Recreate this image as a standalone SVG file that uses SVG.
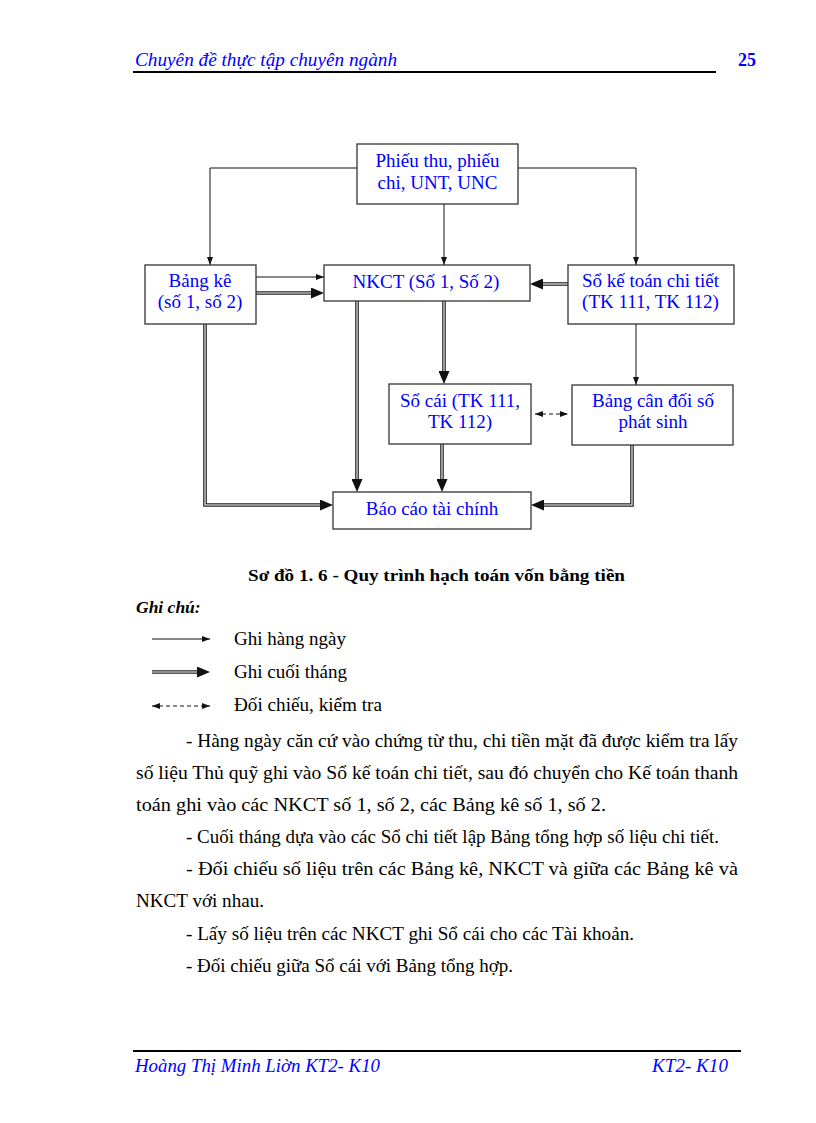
<svg xmlns="http://www.w3.org/2000/svg" width="816" height="1123" viewBox="0 0 816 1123">
<style>
.bx{fill:#fff;stroke:#333;stroke-width:1.3}
.nt{font-family:"Liberation Serif","Times New Roman",serif;font-size:19px;fill:#0000ff;text-anchor:middle}
.s{fill:none;stroke:#111;stroke-width:1}
.do{fill:none;stroke:#222;stroke-width:3.6}
.di{fill:none;stroke:#fff;stroke-width:1.1}
.da{fill:none;stroke:#111;stroke-width:1;stroke-dasharray:4 3}
.tx{font-family:"Liberation Serif","Times New Roman",serif;font-size:18px;fill:#000}
.hd{font-family:"Liberation Serif","Times New Roman",serif;font-size:18px;fill:#0000ff;font-style:italic}
</style>
<defs>
<marker id="aS" markerUnits="userSpaceOnUse" viewBox="0 0 8 8" refX="8" refY="4" markerWidth="8" markerHeight="8" orient="auto-start-reverse"><path d="M0,1 L8,4 L0,7 z" fill="#111"/></marker>
<marker id="aL" markerUnits="userSpaceOnUse" viewBox="0 0 13 11" refX="0" refY="5.5" markerWidth="13" markerHeight="11" orient="auto"><path d="M0,0 L13,5.5 L0,11 z" fill="#111"/></marker>
</defs>
<rect width="816" height="1123" fill="#fff"/>

<g id="header">
<text class="hd" x="135" y="66" textLength="262" lengthAdjust="spacingAndGlyphs">Chuyên đề thực tập chuyên ngành</text>
<text x="738" y="66" font-family="Liberation Serif, serif" font-size="18" font-weight="bold" fill="#0000ff">25</text>
<line x1="133" y1="72" x2="716" y2="72" stroke="#000" stroke-width="2"/>
</g>

<g id="connectors">
<path class="s" d="M357,168 H210 V265" marker-end="url(#aS)"/>
<path class="s" d="M444,204 V265" marker-end="url(#aS)"/>
<path class="s" d="M518,168 H636 V265" marker-end="url(#aS)"/>
<path class="s" d="M256,277 H324" marker-end="url(#aS)"/>
<path class="s" d="M636,324 V385" marker-end="url(#aS)"/>
<path class="da" d="M535,414 H568" marker-start="url(#aS)" marker-end="url(#aS)"/>
<g>
<path class="do" d="M256,293 H311" marker-end="url(#aL)"/><path class="di" d="M256,293 H311"/>
<path class="do" d="M568,284 H543" marker-end="url(#aL)"/><path class="di" d="M568,284 H543"/>
<path class="do" d="M444,301 V371" marker-end="url(#aL)"/><path class="di" d="M444,301 V371"/>
<path class="do" d="M357,301 V479" marker-end="url(#aL)"/><path class="di" d="M357,301 V479"/>
<path class="do" d="M205,324 V505 H320" marker-end="url(#aL)"/><path class="di" d="M205,324 V505 H320"/>
<path class="do" d="M442,444 V479" marker-end="url(#aL)"/><path class="di" d="M442,444 V479"/>
<path class="do" d="M632,445 V505 H544" marker-end="url(#aL)"/><path class="di" d="M632,445 V505 H544"/>
</g>
</g>

<g id="phieu"><rect class="bx" x="357" y="144" width="161" height="60"/>
<text class="nt" x="437.5" y="167">Phiếu thu, phiếu</text><text class="nt" x="437.5" y="189">chi, UNT, UNC</text></g>
<g id="bangke"><rect class="bx" x="145" y="265" width="111" height="59"/>
<text class="nt" x="200" y="287">Bảng kê</text><text class="nt" x="200" y="308">(số 1, số 2)</text></g>
<g id="nkct"><rect class="bx" x="324" y="265" width="206" height="36"/>
<text class="nt" x="426" y="288">NKCT (Số 1, Số 2)</text></g>
<g id="soktct"><rect class="bx" x="568" y="265" width="166" height="59"/>
<text class="nt" x="650.5" y="287">Sổ kế toán chi tiết</text><text class="nt" x="650.5" y="308">(TK 111, TK 112)</text></g>
<g id="socai"><rect class="bx" x="389" y="384" width="142" height="60"/>
<text class="nt" x="460" y="407">Sổ cái (TK 111,</text><text class="nt" x="460" y="428">TK 112)</text></g>
<g id="bangcd"><rect class="bx" x="572" y="385" width="161" height="60"/>
<text class="nt" x="653" y="407">Bảng cân đối số</text><text class="nt" x="653" y="428">phát sinh</text></g>
<g id="baocao"><rect class="bx" x="333" y="492" width="198" height="37"/>
<text class="nt" x="432" y="515">Báo cáo tài chính</text></g>

<g id="caption">
<text x="248" y="581" font-family="Liberation Serif, serif" font-size="17" font-weight="bold" fill="#000" textLength="377" lengthAdjust="spacingAndGlyphs">Sơ đồ 1. 6 - Quy trình  hạch toán vốn bằng tiền</text>
<text x="136" y="613" font-family="Liberation Serif, serif" font-size="17.5" font-weight="bold" font-style="italic" fill="#000">Ghi chú:</text>
</g>

<g id="legend">
<path class="s" d="M152,639 H210" marker-end="url(#aS)"/>
<text class="tx" x="234" y="645" textLength="112" lengthAdjust="spacingAndGlyphs">Ghi hàng ngày</text>
<path class="do" d="M152,672 H197" marker-end="url(#aL)"/><path class="di" d="M152,672 H197"/>
<text class="tx" x="234" y="678" textLength="113" lengthAdjust="spacingAndGlyphs">Ghi cuối tháng</text>
<path class="da" d="M152,706 H210" marker-start="url(#aS)" marker-end="url(#aS)"/>
<text class="tx" x="234" y="711" textLength="148" lengthAdjust="spacingAndGlyphs">Đối chiếu, kiểm tra</text>
</g>

<g id="body">
<text class="tx" x="186" y="747" textLength="552" lengthAdjust="spacingAndGlyphs">- Hàng ngày căn cứ vào chứng từ thu, chi tiền mặt đã được kiểm tra lấy</text>
<text class="tx" x="136" y="779" textLength="602" lengthAdjust="spacingAndGlyphs">số liệu  Thủ quỹ ghi vào Sổ kế toán chi tiết, sau đó chuyển cho Kế toán thanh</text>
<text class="tx" x="136" y="811" textLength="470" lengthAdjust="spacingAndGlyphs">toán ghi vào các NKCT số 1, số 2, các Bảng kê số 1, số 2.</text>
<text class="tx" x="186" y="843" textLength="533" lengthAdjust="spacingAndGlyphs">- Cuối tháng dựa vào các Sổ chi tiết lập Bảng tổng hợp số liệu  chi tiết.</text>
<text class="tx" x="186" y="875" textLength="552" lengthAdjust="spacingAndGlyphs">- Đối chiếu số liệu trên các Bảng kê, NKCT và giữa các Bảng kê và</text>
<text class="tx" x="136" y="907" textLength="128" lengthAdjust="spacingAndGlyphs">NKCT với nhau.</text>
<text class="tx" x="186" y="940" textLength="448" lengthAdjust="spacingAndGlyphs">- Lấy số liệu trên các NKCT ghi Sổ cái cho các Tài khoản.</text>
<text class="tx" x="186" y="972" textLength="327" lengthAdjust="spacingAndGlyphs">- Đối chiếu giữa Sổ cái với Bảng tổng hợp.</text>
</g>

<g id="footer">
<line x1="133" y1="1051" x2="741" y2="1051" stroke="#000" stroke-width="2"/>
<text class="hd" x="135" y="1072" textLength="245" lengthAdjust="spacingAndGlyphs">Hoàng Thị Minh Liờn KT2- K10</text>
<text class="hd" x="652" y="1072" textLength="76" lengthAdjust="spacingAndGlyphs">KT2- K10</text>
</g>
</svg>
